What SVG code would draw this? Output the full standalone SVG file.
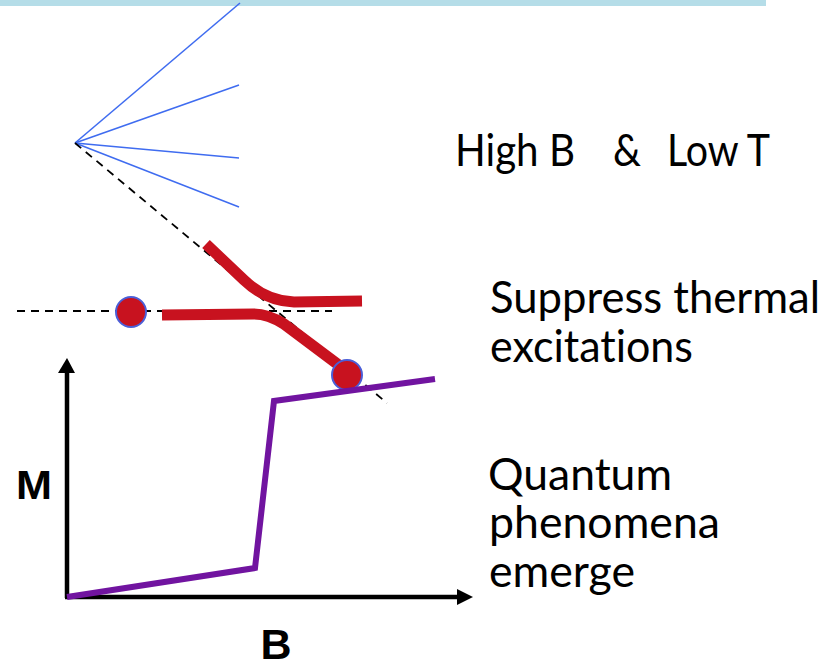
<svg xmlns="http://www.w3.org/2000/svg" width="834" height="667" viewBox="0 0 834 667">
<style>
.fan{stroke:#3f6cf0;stroke-width:1.6;fill:none}
.dash{stroke:#000;stroke-width:1.8;stroke-dasharray:8,6;fill:none}
.red{stroke:#c8121f;stroke-width:11;fill:none;stroke-linejoin:round}
.dot{fill:#c8121f;stroke:#4b5fd8;stroke-width:2}
.axis{stroke:#000;stroke-width:4.5;fill:none}
.mag{stroke:#7114a0;stroke-width:6;fill:none;stroke-linejoin:miter}
.lbl{font-family:Lato,"Open Sans",sans-serif;font-size:44px;fill:#000;font-variant-ligatures:none}
.ax{font-family:"Liberation Sans",Arial,sans-serif;font-weight:bold;fill:#000}
</style>
<rect x="0" y="0" width="766" height="6" fill="#b5dde8"/>
<g id="fan">
<line class="fan" x1="75" y1="143" x2="240" y2="3"/>
<line class="fan" x1="75" y1="143" x2="239" y2="85"/>
<line class="fan" x1="75" y1="143" x2="239" y2="158"/>
<line class="fan" x1="75" y1="143" x2="239" y2="207"/>
</g>
<g id="connectors">
<line class="dash" x1="75" y1="143" x2="387" y2="403"/>
<line class="dash" x1="17" y1="311" x2="332" y2="311"/>
<path class="red" d="M206,244 L244,280 Q266,301 294,302 L362,301"/>
<path class="red" d="M162,315 L254,314 Q268,314 284,324 L340,366"/>
</g>
<g id="dot1"><circle class="dot" cx="131" cy="312" r="15"/></g>
<g id="dot2"><circle class="dot" cx="347" cy="375" r="15"/></g>
<g id="axes">
<line class="axis" x1="67" y1="598" x2="67" y2="370"/>
<polygon points="58,373 67,358 75,373" fill="#000"/>
<line class="axis" x1="65" y1="597" x2="460" y2="597"/>
<polygon points="457,589 473,597 457,605" fill="#000"/>
<text class="ax" x="34" y="499" font-size="40" text-anchor="middle" textLength="36" lengthAdjust="spacingAndGlyphs">M</text>
<text class="ax" x="276" y="659" font-size="43" text-anchor="middle">B</text>
</g>
<g id="curve">
<polyline class="mag" points="67,597 255,568 274,401 435,379"/>
</g>
<g id="labels">
<text class="lbl" x="455" y="166" textLength="120" lengthAdjust="spacingAndGlyphs">High B</text>
<text class="lbl" x="613" y="166" textLength="28" lengthAdjust="spacingAndGlyphs">&amp;</text>
<text class="lbl" x="667" y="166" textLength="103" lengthAdjust="spacingAndGlyphs">Low T</text>
<text class="lbl" x="490" y="313" textLength="330" lengthAdjust="spacingAndGlyphs">Suppress thermal</text>
<text class="lbl" x="490" y="362" textLength="203" lengthAdjust="spacingAndGlyphs">excitations</text>
<text class="lbl" x="488" y="490" textLength="184" lengthAdjust="spacingAndGlyphs">Quantum</text>
<text class="lbl" x="489" y="538" textLength="231" lengthAdjust="spacingAndGlyphs">phenomena</text>
<text class="lbl" x="489" y="587" textLength="146" lengthAdjust="spacingAndGlyphs">emerge</text>
</g>
</svg>
